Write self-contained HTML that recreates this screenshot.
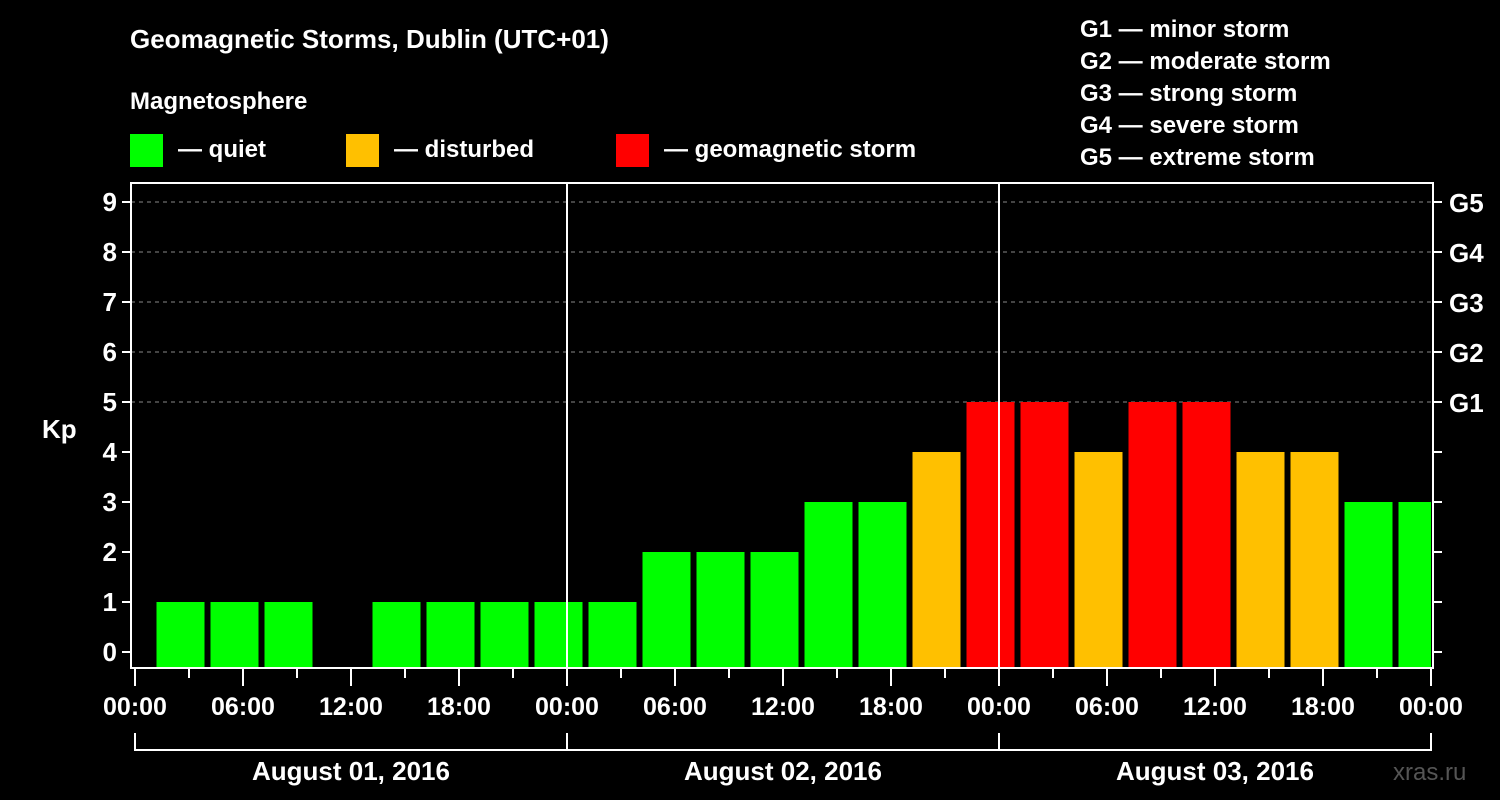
<!DOCTYPE html>
<html><head><meta charset="utf-8"><style>
body{margin:0;background:#000;width:1500px;height:800px;overflow:hidden}
svg{display:block;font-family:"Liberation Sans",sans-serif;font-weight:bold;fill:#fff}
</style></head><body>
<svg id="c" width="1500" height="800">
<text x="130" y="48" font-size="26">Geomagnetic Storms, Dublin (UTC+01)</text>
<text x="130" y="109" font-size="24">Magnetosphere</text>
<g><rect x="130" y="134" width="33" height="33" fill="#00ff00"/><text x="178" y="157" font-size="24">— quiet</text></g>
<g><rect x="346" y="134" width="33" height="33" fill="#ffc000"/><text x="394" y="157" font-size="24">— disturbed</text></g>
<g><rect x="616" y="134" width="33" height="33" fill="#ff0000"/><text x="664" y="157" font-size="24">— geomagnetic storm</text></g>
<g font-size="24">
<text x="1080" y="37">G1 — minor storm</text><text x="1080" y="69">G2 — moderate storm</text><text x="1080" y="101">G3 — strong storm</text><text x="1080" y="133">G4 — severe storm</text><text x="1080" y="165">G5 — extreme storm</text></g>
<text x="42" y="438" font-size="26">Kp</text>
<text x="1393" y="780" font-size="24" fill="#555" style="fill:#555;font-weight:normal">xras.ru</text>
<g id="grid"></g><g id="bars"></g><g id="axes"></g>
</svg>
<script>
const kpValues=[1,1,1,0,1,1,1,1,1,2,2,2,3,3,4,5,5,4,5,5,4,4,3,3];
const yTicks=[0,1,2,3,4,5,6,7,8,9];
const gLabels=["G1","G2","G3","G4","G5"];
const xLabels=["00:00","06:00","12:00","18:00","00:00","06:00","12:00","18:00","00:00","06:00","12:00","18:00","00:00"];
const dayLabels=["August 01, 2016","August 02, 2016","August 03, 2016"];
const NS="http://www.w3.org/2000/svg";
const X0=135,HOUR=18,Y0=652,UNIT=50,LEFT=131,RIGHT=1433,TOP=183,BOT=668,OFFSET=1;
const xs=h=>X0+h*HOUR, ys=v=>Y0-v*UNIT;
function mk(p,t,a){const e=document.createElementNS(NS,t);for(const k in a)e.setAttribute(k,a[k]);p.appendChild(e);return e;}
const grid=document.getElementById('grid'),bars=document.getElementById('bars'),axes=document.getElementById('axes');
yTicks.forEach(v=>{if(v>=5){const l=mk(grid,'line',{x1:LEFT,x2:RIGHT,y1:ys(v),y2:ys(v),stroke:'#888','stroke-dasharray':'4,4'});

}});
kpValues.forEach((v,i)=>{if(v<=0)return;const x=xs(OFFSET+i*3)+3.5;const w=Math.min(48,RIGHT-2-x);
const col=v>=5?'#ff0000':v>=4?'#ffc000':'#00ff00';
const r=mk(bars,'rect',{x:x,y:ys(v),width:w,height:BOT-ys(v),fill:col});

});
[1,2].forEach(d=>{const l=mk(axes,'line',{x1:xs(d*24),x2:xs(d*24),y1:TOP,y2:BOT,stroke:'#fff','stroke-width':2});

});
const fr=mk(axes,'rect',{x:LEFT,y:TOP,width:RIGHT-LEFT,height:BOT-TOP,fill:'none',stroke:'#fff','stroke-width':2});


yTicks.forEach(v=>{mk(axes,'line',{x1:LEFT-9,x2:LEFT,y1:ys(v),y2:ys(v),stroke:'#fff','stroke-width':2});
mk(axes,'line',{x1:RIGHT,x2:RIGHT+9,y1:ys(v),y2:ys(v),stroke:'#fff','stroke-width':2});
const t=mk(axes,'text',{x:LEFT-14,y:ys(v)+9,'font-size':26,'text-anchor':'end'});t.textContent=v;

});
gLabels.forEach((g,i)=>{const t=mk(axes,'text',{x:1449,y:ys(5+i)+10,'font-size':26});t.textContent=g;

});
for(let h=0;h<=72;h+=3){mk(axes,'line',{x1:xs(h),x2:xs(h),y1:BOT,y2:BOT+(h%6?10:18),stroke:'#fff','stroke-width':2});}
xLabels.forEach((s,i)=>{const t=mk(axes,'text',{x:xs(i*6),y:715,'font-size':25,'text-anchor':'middle'});t.textContent=s;

});
mk(axes,'polyline',{points:`${xs(0)},733 ${xs(0)},750 ${xs(72)},750 ${xs(72)},733`,fill:'none',stroke:'#fff','stroke-width':2});
[24,48].forEach(h=>mk(axes,'line',{x1:xs(h),x2:xs(h),y1:733,y2:750,stroke:'#fff','stroke-width':2}));
dayLabels.forEach((s,i)=>{const t=mk(axes,'text',{x:xs(i*24+12),y:780,'font-size':26,'text-anchor':'middle'});t.textContent=s;

});
</script>
</body></html>
